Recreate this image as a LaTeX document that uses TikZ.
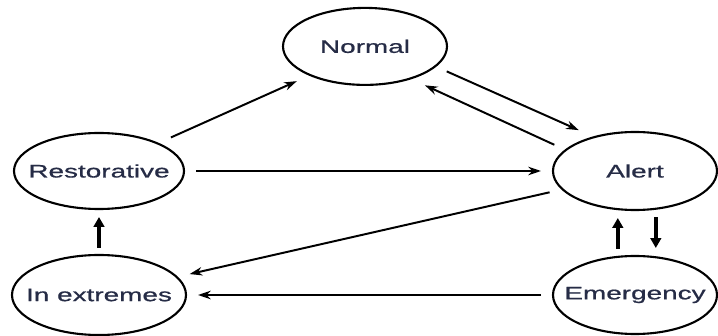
\documentclass[tikz,border=0pt]{standalone}
\usepackage{fontspec}
\setmainfont{Liberation Sans}[FakeStretch=1.54,FakeBold=0.8]
\usetikzlibrary{shapes.geometric,arrows.meta}

\definecolor{txtcol}{RGB}{38,44,70}
\newcommand{\statelabel}[1]{\makebox[0pt]{#1}}
\tikzset{
	mode/.style={draw,ellipse,line width=1.5pt,inner sep=0pt,outer sep=0.3cm,text=txtcol,font=\fontsize{12.9}{15}\selectfont},
	flow/.style={line width=1.4pt,-{Stealth[length=9pt,width=6pt]}},
	bigflow/.style={line width=2.6pt,-{Triangle[length=7pt,width=7.5pt]},shorten >=-0.1cm,shorten <=-0.12cm}
}

\begin{document}
\begin{tikzpicture}
		\useasboundingbox (0,0) rectangle (17.95,8.4);
		% the five states
		\node [mode,minimum width=4.1cm,minimum height=1.925cm] (normal) at (9.125,7.24) {\statelabel{Normal}};
		\node [mode,minimum width=4.25cm,minimum height=1.9cm] (rest) at (2.475,4.125) {\statelabel{Restorative}};
		\node [mode,minimum width=4.1cm,minimum height=1.95cm] (alert) at (15.875,4.125) {\statelabel{Alert}};
		\node [mode,minimum width=4.1cm,minimum height=1.95cm] (emerg) at (15.875,1.025) {\statelabel{Emergency}};
		\node [mode,minimum width=4.35cm,minimum height=2cm] (ext) at (2.475,1.025) {\statelabel{In extremes}};
		% transitions
		\draw[flow] (rest.25) -- (normal.207);
		\draw[flow] (normal.-17) -- (alert.144);
		\draw[flow] (alert.162) -- (normal.-33);
		\draw[flow] (rest.east) -- (alert.west);
		\draw[flow] (alert.194) -- (ext.13);
		\draw[flow] (emerg.west) -- (ext.east);
		\draw[bigflow] (ext.north) -- (rest.south);
		\draw[bigflow] ([xshift=-0.43cm]emerg.north) -- ([xshift=-0.43cm]alert.south);
		\draw[bigflow] ([xshift=0.52cm]alert.south) -- ([xshift=0.52cm]emerg.north);
    \end{tikzpicture}
\end{document}
